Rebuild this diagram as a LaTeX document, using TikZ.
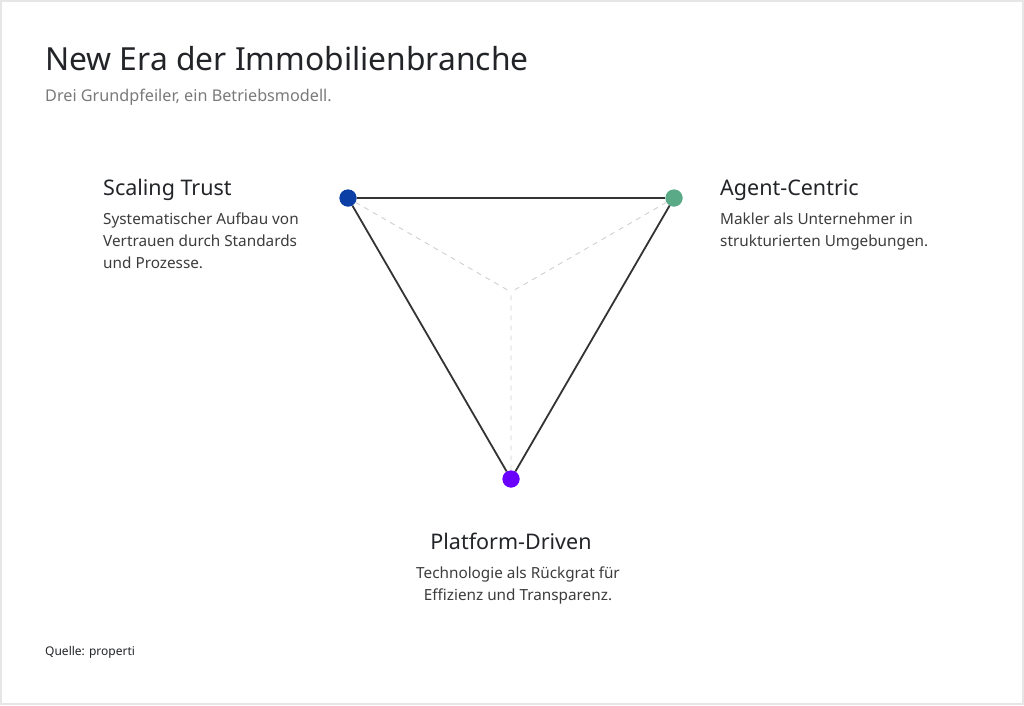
\documentclass[tikz,border=0pt]{standalone}
\usepackage{fontspec}
\setmainfont{Noto Sans}
\definecolor{frame}{HTML}{E6E6E6}
\definecolor{titlec}{HTML}{222428}
\definecolor{subc}{HTML}{7A7A7A}
\definecolor{bodyc}{HTML}{3C3C3C}
\definecolor{edgec}{HTML}{333333}
\definecolor{dashc}{HTML}{D0D0D0}
\definecolor{bluec}{HTML}{0B3FA6}
\definecolor{greenc}{HTML}{5AAA88}
\definecolor{purplec}{HTML}{6A00FF}
\begin{document}
\begin{tikzpicture}[x=1pt,y=-1pt,
  pillar/.style={circle,inner sep=0pt,minimum size=17pt},
  edge/.style={draw=edgec,line width=1.8pt},
  guide/.style={draw=dashc,line width=0.9pt,dash pattern=on 5pt off 5pt},
  heading/.style={anchor=base west,inner sep=0pt,text=titlec,font=\fontsize{21.5}{26}\selectfont},
  body/.style={anchor=base west,inner sep=0pt,text=bodyc,align=left,font=\fontsize{15.3}{22}\selectfont}]
\useasboundingbox (0,0) rectangle (1024,705);
\fill[white] (0,0) rectangle (1024,705);
\draw[frame,line width=2pt] (1,1) rectangle (1023,704);
\node[anchor=base west,inner sep=0pt,text=titlec,font=\fontsize{31.8}{38}\selectfont] (title) at (45,70) {New Era der Immobilienbranche};
\node[anchor=base west,inner sep=0pt,text=subc,font=\fontsize{16.2}{20}\selectfont] (sub) at (45,101) {Drei Grundpfeiler, ein Betriebsmodell.};
\coordinate (c) at (511,292);
\node[pillar,fill=bluec] (st) at (348,198) {};
\node[pillar,fill=greenc] (ac) at (674,198) {};
\node[pillar,fill=purplec] (pd) at (511,479) {};
\draw[guide] (st) -- (c) (ac) -- (c) (pd) -- (c);
\draw[edge] (st) -- (ac);
\draw[edge] (ac) -- (pd);
\draw[edge] (pd) -- (st);
\node[pillar,fill=bluec] at (st) {};
\node[pillar,fill=greenc] at (ac) {};
\node[pillar,fill=purplec] at (pd) {};
\node[heading] (sth) at (103,195) {Scaling Trust};
\node[body] (stb) at (103,268) {Systematischer Aufbau von\\Vertrauen durch Standards\\und Prozesse.};
\node[heading] (ach) at (720,195) {Agent-Centric};
\node[body] (acb) at (720,246) {Makler als Unternehmer in\\strukturierten Umgebungen.};
\node[heading,anchor=base] (pdh) at (511,549) {Platform-Driven};
\node[body,anchor=base,align=center] (pdb) at (518,600) {Technologie als Rückgrat für\\Effizienz und Transparenz.};
\node[anchor=base west,inner sep=0pt,text=titlec,font=\fontsize{12}{15}\selectfont] (src) at (45,655) {\textbf{Quelle:} properti};
\end{tikzpicture}
\end{document}
